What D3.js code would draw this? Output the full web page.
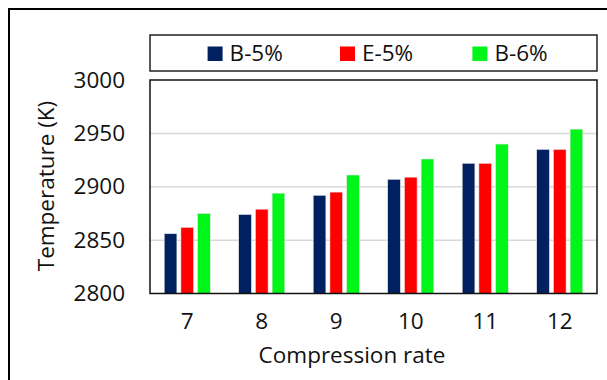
<!DOCTYPE html>
<html><head><meta charset="utf-8">
<script src="https://cdn.jsdelivr.net/npm/d3@7"></script>
<style>body{margin:0;background:#fff}svg{display:block}text{font-family:"Open Sans",sans-serif;fill:#111}</style>
</head><body><svg id="c" width="607" height="380"></svg>
<script>
const categories = ["7","8","9","10","11","12"];
const seriesNames = ["B-5%","E-5%","B-6%"];
const b5 = [2856, 2874, 2892, 2907, 2922, 2935];
const e5 = [2862, 2879, 2895, 2909, 2922, 2935];
const b6 = [2875, 2894, 2911, 2926, 2940, 2954];
const yTicks = [2800, 2850, 2900, 2950, 3000];
const colors = ["#002060", "#ff0000", "#00f519"];
const values = [b5, e5, b6];

const svg = d3.select("#c");
const L = 150, R = 597, T = 80, B = 293.5;
// outer frame
svg.append("rect").attr("x",9).attr("y",9).attr("width",620).attr("height",400)
  .attr("fill","none").attr("stroke","#000").attr("stroke-width",2);

const x = d3.scaleBand().domain(categories).range([L,R]).paddingInner(0).paddingOuter(0);
const y = d3.scaleLinear().domain([2800,3000]).range([B,T]);

// gridlines
svg.append("g").selectAll("line").data(yTicks.slice(1,4)).join("line")
  .attr("x1",L).attr("x2",R).attr("y1",d=>y(d)).attr("y2",d=>y(d))
  .attr("stroke","#d9d9d9").attr("stroke-width",1.5);

const barW = 12.7, step = 16.7;
const data = [];
categories.forEach((c,i)=>values.forEach((s,j)=>data.push({c,j,v:s[i]})));
svg.append("g").selectAll("rect").data(data).join("rect")
  .attr("x",d=>x(d.c)+x.bandwidth()/2 + (d.j-1)*step - barW/2)
  .attr("width",barW)
  .attr("y",d=>y(d.v)).attr("height",d=>B-y(d.v))
  .attr("fill",d=>colors[d.j]).attr("stroke","#e8e8e8").attr("stroke-width",0.6);

// plot border
svg.append("rect").attr("x",L).attr("y",T).attr("width",R-L).attr("height",B-T)
  .attr("fill","none").attr("stroke","#111").attr("stroke-width",1.5);

// y axis labels
const ya = d3.axisLeft(y).tickValues(yTicks).tickFormat(d3.format("d")).tickSize(0).tickPadding(25);
const gy = svg.append("g").attr("transform",`translate(${L},0)`).call(ya);
gy.select(".domain").remove();
gy.selectAll("text").style("font-size","22.5px").style("font-family","Open Sans").attr("fill","#111");

// x axis labels
const xa = d3.axisBottom(x).tickSize(0).tickPadding(20);
const gx = svg.append("g").attr("transform",`translate(0,${B})`).call(xa);
gx.select(".domain").remove();
gx.selectAll("text").style("font-size","22.5px").style("font-family","Open Sans").attr("fill","#111");

svg.append("text").attr("x",352).attr("y",363).attr("text-anchor","middle")
  .style("font-size","22.5px").text("Compression rate");
svg.append("text").attr("transform","translate(54,186) rotate(-90)").attr("text-anchor","middle")
  .style("font-size","22.5px").text("Temperature (K)");

// legend
svg.append("rect").attr("x",150).attr("y",35).attr("width",447).attr("height",36)
  .attr("fill","#fff").attr("stroke","#222").attr("stroke-width",1.5);
const lg = svg.append("g").selectAll("g").data(seriesNames).join("g")
  .attr("transform",(d,i)=>`translate(${207.6+i*132.4},0)`);
lg.append("rect").attr("x",0).attr("y",46.5).attr("width",15).attr("height",14.5).attr("fill",(d,i)=>colors[i]);
lg.append("text").attr("x",22).attr("y",61).style("font-size","22.5px").text(d=>d);
</script></body></html>
